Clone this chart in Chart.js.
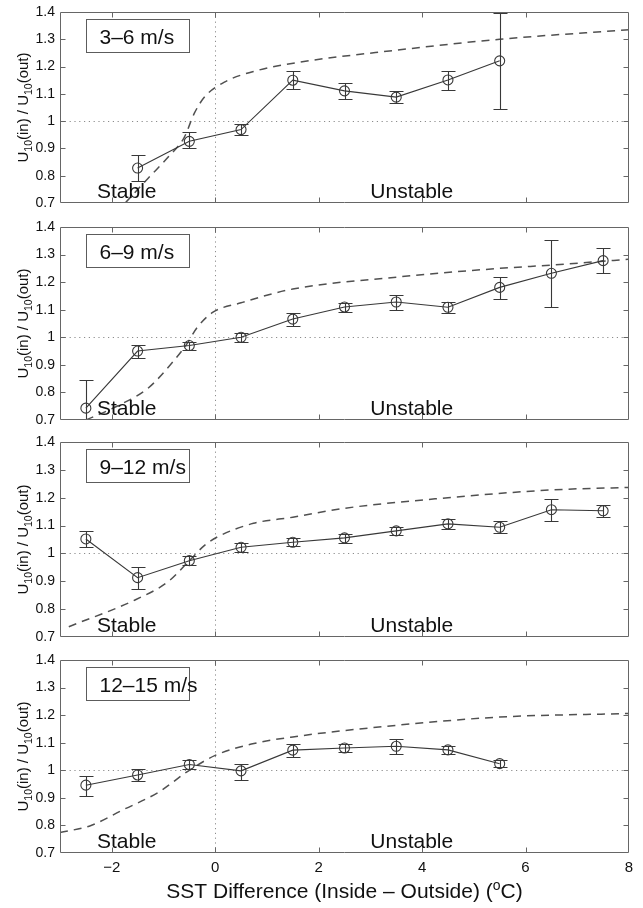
<!DOCTYPE html>
<html>
<head>
<meta charset="utf-8">
<title>U10 ratio vs SST difference</title>
<script src="https://cdn.jsdelivr.net/npm/chart.js@4.4.1/dist/chart.umd.min.js"></script>
<style>
    html, body { margin: 0; padding: 0; background: #fff; }
    #wrap { position: relative; width: 643px; height: 908px; overflow: hidden; }
    #wrap canvas { position: absolute; left: 0; }
</style>
</head>
<body>
<div id="wrap">
    <canvas id="panel0"></canvas>
    <canvas id="panel1"></canvas>
    <canvas id="panel2"></canvas>
    <canvas id="panel3"></canvas>
</div>
<script>
/**
 *
 * Wind ratio panels, one chart per wind speed class
 *
 */

// axis ticks
const xTicks = [-2, 0, 2, 4, 6, 8];
const xTickLabels = ['\u22122', '0', '2', '4', '6', '8'];
const yTicks = [0.7, 0.8, 0.9, 1.0, 1.1, 1.2, 1.3, 1.4];
const yTickLabels = ['0.7', '0.8', '0.9', '1', '1.1', '1.2', '1.3', '1.4'];

const panelLabels = ['3\u20136 m/s', '6\u20139 m/s', '9\u201312 m/s', '12\u201315 m/s'];

// 3-6 m/s
const sst1 = [-1.5, -0.5, 0.5, 1.5, 2.5, 3.5, 4.5, 5.5];
const ratio1 = [0.828, 0.926, 0.969, 1.150, 1.111, 1.088, 1.151, 1.221];
const hi1 = [0.877, 0.960, 0.988, 1.185, 1.141, 1.109, 1.185, 1.396];
const lo1 = [0.779, 0.900, 0.951, 1.117, 1.081, 1.067, 1.114, 1.046];
const curveX1 = [-1.74, -1.3, -0.9, -0.6, -0.4, -0.2, 0.2, 0.8, 1.6, 3.5, 5.5, 8];
const curveY1 = [0.70, 0.79, 0.87, 0.94, 1.03, 1.09, 1.145, 1.185, 1.215, 1.26, 1.30, 1.335];

// 6-9 m/s
const sst2 = [-2.5, -1.5, -0.5, 0.5, 1.5, 2.5, 3.5, 4.5, 5.5, 6.5, 7.5];
const ratio2 = [0.743, 0.950, 0.970, 1.000, 1.066, 1.110, 1.128, 1.109, 1.181, 1.232, 1.278];
const hi2 = [0.844, 0.972, 0.983, 1.016, 1.088, 1.124, 1.155, 1.127, 1.219, 1.352, 1.323];
const lo2 = [0.700, 0.926, 0.955, 0.983, 1.042, 1.093, 1.100, 1.088, 1.139, 1.110, 1.233];
const curveX2 = [-2.5, -1.9, -1.3, -0.8, -0.55, -0.35, -0.05, 0.5, 1.5, 3.5, 5.5, 6.5, 8];
const curveY2 = [0.70, 0.75, 0.815, 0.915, 0.975, 1.035, 1.09, 1.125, 1.175, 1.218, 1.25, 1.262, 1.283];

// 9-12 m/s
const sst3 = [-2.5, -1.5, -0.5, 0.5, 1.5, 2.5, 3.5, 4.5, 5.5, 6.5, 7.5];
const ratio3 = [1.052, 0.913, 0.974, 1.022, 1.040, 1.056, 1.081, 1.106, 1.094, 1.157, 1.153];
const hi3 = [1.082, 0.953, 0.992, 1.039, 1.055, 1.071, 1.094, 1.123, 1.115, 1.196, 1.175];
const lo3 = [1.022, 0.872, 0.958, 1.006, 1.025, 1.039, 1.066, 1.089, 1.073, 1.117, 1.130];
const curveX3 = [-2.83, -1.55, -0.9, -0.5, -0.2, 0.05, 0.74, 1.5, 2.5, 4.5, 6.5, 8];
const curveY3 = [0.737, 0.833, 0.90, 0.974, 1.03, 1.06, 1.108, 1.13, 1.162, 1.20, 1.228, 1.237];

// 12-15 m/s
const sst4 = [-2.5, -1.5, -0.5, 0.5, 1.5, 2.5, 3.5, 4.5, 5.5];
const ratio4 = [0.946, 0.983, 1.021, 0.998, 1.073, 1.081, 1.087, 1.074, 1.024];
const hi4 = [0.980, 1.005, 1.036, 1.024, 1.097, 1.097, 1.115, 1.087, 1.039];
const lo4 = [0.908, 0.960, 1.004, 0.966, 1.048, 1.067, 1.060, 1.060, 1.012];
const curveX4 = [-3, -2.4, -1.8, -1.1, -0.5, 0, 0.7, 1.5, 3.5, 5.5, 8];
const curveY4 = [0.774, 0.80, 0.855, 0.92, 1.0, 1.054, 1.095, 1.121, 1.163, 1.193, 1.206];

const refRatio = 1.0;   // dotted horizontal line
const refSst = 0.0;     // dotted vertical line
const unstableAt = 3.8; // centre of the "Unstable" text


const App = (function() {

    const FONT = "'Liberation Sans', Arial, Helvetica, sans-serif";
    const INK = '#111';
    const LINE = '#383838';

    // page layout (pixels)
    const plotTop = [12, 227, 442, 660];
    const plotBottom = [203, 420, 637, 853];
    const padTop = 14;
    const padBottom = 14;
    const xAxisRoom = 55;

    const panels = [
        { x: sst1, y: ratio1, hi: hi1, lo: lo1, cx: curveX1, cy: curveY1 },
        { x: sst2, y: ratio2, hi: hi2, lo: lo2, cx: curveX2, cy: curveY2 },
        { x: sst3, y: ratio3, hi: hi3, lo: lo3, cx: curveX3, cy: curveY3 },
        { x: sst4, y: ratio4, hi: hi4, lo: lo4, cx: curveX4, cy: curveY4 }
    ];

    const pairs = function(xs, ys) {
        return xs.map(function(v, i) { return { x: v, y: ys[i] }; });
    };

    // draw a run of text pieces, [text, shift, size]
    const drawPieces = function(ctx, pieces, x0, y0, align) {
        let total = 0;
        pieces.forEach(function(p) {
            ctx.font = p[2] + 'px ' + FONT;
            total += ctx.measureText(p[0]).width;
        });
        let x = align === 'center' ? x0 - total / 2 : x0;
        pieces.forEach(function(p) {
            ctx.font = p[2] + 'px ' + FONT;
            ctx.fillText(p[0], x, y0 + p[1]);
            x += ctx.measureText(p[0]).width;
        });
    };

    const decor = {
        id: 'decor',
        beforeDatasetsDraw: function(chart) {
            const ctx = chart.ctx, a = chart.chartArea;
            const xs = chart.scales.x, ys = chart.scales.y;
            ctx.save();
            ctx.strokeStyle = '#8c8c8c';
            ctx.lineWidth = 1;
            ctx.setLineDash([1.2, 3.6]);
            const yy = Math.round(ys.getPixelForValue(refRatio)) + 0.5;
            ctx.beginPath();
            ctx.moveTo(a.left, yy);
            ctx.lineTo(a.right, yy);
            const xx = Math.round(xs.getPixelForValue(refSst)) + 0.5;
            ctx.moveTo(xx, a.top);
            ctx.lineTo(xx, a.bottom);
            ctx.stroke();
            ctx.restore();
        },
        afterDatasetsDraw: function(chart, args, opts) {
            const ctx = chart.ctx, a = chart.chartArea;
            const xs = chart.scales.x, ys = chart.scales.y;
            ctx.save();
            ctx.beginPath();
            ctx.rect(a.left, a.top, a.right - a.left, a.bottom - a.top);
            ctx.clip();
            ctx.strokeStyle = LINE;
            ctx.lineWidth = 1.1;
            ctx.beginPath();
            opts.sst.forEach(function(v, i) {
                const px = Math.round(xs.getPixelForValue(v)) + 0.5;
                const ph = Math.round(ys.getPixelForValue(opts.hi[i])) + 0.5;
                const pl = Math.round(ys.getPixelForValue(opts.lo[i])) + 0.5;
                ctx.moveTo(px, ph); ctx.lineTo(px, pl);
                ctx.moveTo(px - 7, ph); ctx.lineTo(px + 7, ph);
                ctx.moveTo(px - 7, pl); ctx.lineTo(px + 7, pl);
            });
            ctx.stroke();
            ctx.restore();
        },
        afterDraw: function(chart, args, opts) {
            const ctx = chart.ctx, a = chart.chartArea;
            const xs = chart.scales.x, ys = chart.scales.y;
            const L = a.left + 0.5, R = Math.round(a.right) - 0.5;
            const T = a.top + 0.5, B = Math.round(a.bottom) - 0.5;
            ctx.save();

            // frame and inward ticks
            ctx.strokeStyle = '#666';
            ctx.lineWidth = 1;
            ctx.beginPath();
            ctx.rect(L, T, R - L, B - T);
            xTicks.forEach(function(v) {
                const px = Math.round(xs.getPixelForValue(v)) + 0.5;
                if (px <= L + 1 || px >= R - 1) return;
                ctx.moveTo(px, T); ctx.lineTo(px, T + 5);
                ctx.moveTo(px, B); ctx.lineTo(px, B - 5);
            });
            yTicks.forEach(function(v) {
                const py = Math.round(ys.getPixelForValue(v)) + 0.5;
                if (py <= T + 1 || py >= B - 1) return;
                ctx.moveTo(L, py); ctx.lineTo(L + 5, py);
                ctx.moveTo(R, py); ctx.lineTo(R - 5, py);
            });
            ctx.stroke();

            // speed class box
            ctx.fillStyle = '#fff';
            ctx.fillRect(L + 26, T + 7, 103, 33);
            ctx.strokeStyle = '#5c5c5c';
            ctx.strokeRect(L + 26, T + 7, 103, 33);
            ctx.fillStyle = INK;
            ctx.textBaseline = 'alphabetic';
            ctx.textAlign = 'left';
            ctx.font = '21px ' + FONT;
            ctx.fillText(opts.label, L + 39, T + 31);

            // regime names
            ctx.font = '21px ' + FONT;
            ctx.fillText('Stable', a.left + 37, a.bottom - 5);
            ctx.textAlign = 'center';
            ctx.fillText('Unstable', xs.getPixelForValue(unstableAt), a.bottom - 5);
            ctx.textAlign = 'left';

            // y title with subscripts
            ctx.save();
            ctx.translate(27.5, (a.top + a.bottom) / 2);
            ctx.rotate(-Math.PI / 2);
            drawPieces(ctx, [
                ['U', 0, 15], ['10', 4.5, 10.5], ['(in) / U', 0, 15],
                ['10', 4.5, 10.5], ['(out)', 0, 15]
            ], 0, 0, 'center');
            ctx.restore();

            // x title on the last panel
            if (opts.xTitle) {
                drawPieces(ctx, [
                    ['SST Difference (Inside \u2013 Outside) (', 0, 21],
                    ['o', -8, 14], ['C)', 0, 21]
                ], (a.left + a.right) / 2, a.bottom + 45, 'center');
            }
            ctx.restore();
        }
    };

    const makePanel = function(idx) {
        const p = panels[idx];
        const last = idx === panels.length - 1;
        const canvas = document.getElementById('panel' + idx);
        const h = plotBottom[idx] - plotTop[idx];
        canvas.width = 643;
        canvas.height = padTop + h + (last ? xAxisRoom : padBottom);
        canvas.style.top = (plotTop[idx] - padTop) + 'px';

        new Chart(canvas, {
            type: 'line',
            data: {
                datasets: [{
                    label: 'observed',
                    data: pairs(p.x, p.y),
                    borderColor: LINE,
                    borderWidth: 1.1,
                    pointRadius: 5,
                    pointBorderWidth: 1.1,
                    pointBorderColor: LINE,
                    pointBackgroundColor: 'rgba(0,0,0,0)',
                    fill: false
                }, {
                    label: 'theory',
                    data: pairs(p.cx, p.cy),
                    borderColor: '#505050',
                    borderWidth: 1.5,
                    borderDash: [8, 6],
                    pointRadius: 0,
                    cubicInterpolationMode: 'monotone',
                    fill: false
                }]
            },
            options: {
                responsive: false,
                animation: false,
                devicePixelRatio: 1,
                layout: { padding: { top: padTop, bottom: last ? 0 : padBottom, left: 0, right: 14 } },
                plugins: {
                    legend: { display: false },
                    tooltip: { enabled: false },
                    decor: {
                        label: panelLabels[idx],
                        sst: p.x, hi: p.hi, lo: p.lo,
                        xTitle: last
                    }
                },
                scales: {
                    x: {
                        type: 'linear',
                        min: -3, max: 8,
                        display: last,
                        grid: { display: false, drawTicks: false },
                        border: { display: false },
                        afterBuildTicks: function(axis) {
                            axis.ticks = xTicks.map(function(v) { return { value: v }; });
                        },
                        afterFit: function(axis) { axis.height = last ? xAxisRoom : 0; },
                        ticks: {
                            padding: 6,
                            maxRotation: 0,
                            autoSkip: false,
                            color: INK,
                            font: { size: 15, family: FONT },
                            callback: function(v) { return xTickLabels[xTicks.indexOf(v)]; }
                        }
                    },
                    y: {
                        min: 0.7, max: 1.4,
                        grid: { display: false, drawTicks: false },
                        border: { display: false },
                        afterBuildTicks: function(axis) {
                            axis.ticks = yTicks.map(function(v) { return { value: v }; });
                        },
                        afterFit: function(axis) { axis.width = 60; },
                        ticks: {
                            padding: 5,
                            autoSkip: false,
                            color: INK,
                            font: { size: 14, family: FONT },
                            callback: function(v, i) { return yTickLabels[i]; }
                        }
                    }
                }
            },
            plugins: [decor]
        });
    };

    /*======================================================
    =            Init Function for All Function            =
    ======================================================*/

    const init = function() {
        Chart.defaults.font.family = FONT;
        for (let i = 0; i < panels.length; i++) {
            makePanel(i);
        }
    };

    return {
        init: init
    };

})();

App.init();
</script>
</body>
</html>
